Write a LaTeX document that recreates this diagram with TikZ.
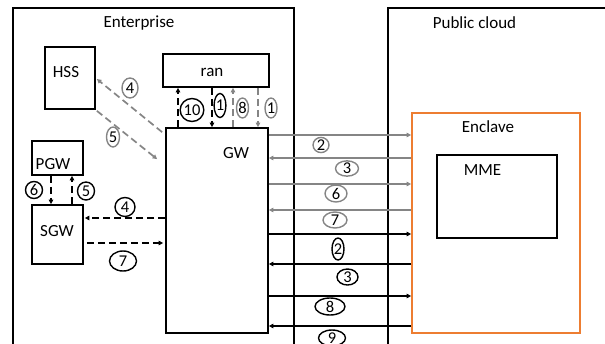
\documentclass[tikz,border=0pt]{standalone}
\usepackage{fontspec}
\setmainfont{Carlito}
\usetikzlibrary{shapes.geometric,arrows.meta,calc}
\definecolor{enclorange}{HTML}{ED7D31}
\definecolor{flowgray}{HTML}{858585}
\begin{document}
\begin{tikzpicture}[x=1pt,y=-1pt,
  box/.style={draw, line width=1.7pt, inner sep=0pt},
  txt/.style={font=\fontsize{17}{20}\selectfont, inner sep=0pt, anchor=base},
  num/.style={ellipse, draw, line width=1.4pt, inner sep=0pt,
              font=\fontsize{16.5}{18}\selectfont},
  gnum/.style={num, draw=flowgray},
  tipped/.style={-{Triangle[length=4.5pt,width=4.5pt]}},
  blk/.style={line width=1.7pt, tipped},
  gry/.style={line width=1.7pt, draw=flowgray, tipped},
  dsh/.style={dash pattern=on 7pt off 4pt},
]
\useasboundingbox (0,0) rectangle (605,343);

% domains
\node[box, anchor=north west, minimum width=281, minimum height=360] (ent) at (12,7) {};
\node[box, anchor=north west, minimum width=260, minimum height=360] (pub) at (387,7) {};
\node[txt] (entlbl) at (139,27) {Enterprise};
\node[txt] (publbl) at (474.5,28) {Public cloud};

% enterprise elements
\node[box, minimum width=50, minimum height=62] (hss) at (70,78) {};
\node[txt] (hsslbl) at (66,77) {HSS};
\node[box, minimum width=106, minimum height=33] (ran) at (216,70.5) {};
\node[txt] (ranlbl) at (212,76) {ran};
\node[box, minimum width=102, minimum height=205] (gw) at (217,230.5) {};
\node[txt] (gwlbl) at (236,158) {GW};
\node[box, minimum width=51, minimum height=34] (pgw) at (57.5,158) {};
\node[txt] (pgwlbl) at (53,169) {PGW};
\node[box, minimum width=51, minimum height=59] (sgw) at (57.5,234.5) {};
\node[txt] (sgwlbl) at (57,236) {SGW};

% cloud elements
\node[draw=enclorange, line width=1.7pt, inner sep=0pt,
      minimum width=168, minimum height=220] (encl) at (496,223) {};
\node[txt] (encllbl) at (488,132) {Enclave};
\node[box, minimum width=120, minimum height=83] (mme) at (497,196.5) {};
\node[txt] (mmelbl) at (482.5,175) {MME};

% ran <-> GW
\draw[blk,dsh] ([xshift=-39pt]gw.north) -- ([xshift=-39pt]gw.north |- ran.south);
\draw[blk,dsh] ([xshift=-4pt]ran.south) -- ([xshift=-4pt]ran.south |- gw.north);
\draw[gry,dsh] ([xshift=16pt]gw.north) -- ([xshift=16pt]gw.north |- ran.south);
\draw[gry,dsh] ([xshift=42pt]ran.south) -- ([xshift=42pt]ran.south |- gw.north);
\node[num, minimum width=17, minimum height=23] (n10) at (192,110) {10};
\node[num, minimum width=10, minimum height=24] (n1a) at (220,105.5) {1};
\node[gnum, minimum width=12, minimum height=20] (g8a) at (242.5,108) {8};
\node[gnum, minimum width=12, minimum height=20] (g1a) at (271,108) {1};

% HSS <-> GW
\draw[gry,dsh] ($(gw.north west)+(-3,5)$) -- ($(hss.east)+(1,1)$);
\draw[gry,dsh] ($(hss.south east)+(1,1)$) -- ($(gw.north west)+(-8,32)$);
\node[gnum, minimum width=16, minimum height=20] (g4) at (130,88) {4};
\node[gnum, minimum width=13, minimum height=20] (g5) at (113,137) {5};

% PGW <-> SGW
\draw[blk,dsh] ([xshift=-6.5pt]pgw.south) -- ([xshift=-6.5pt]pgw.south |- sgw.north);
\draw[blk,dsh] ([xshift=14.5pt]sgw.north) -- ([xshift=14.5pt]sgw.north |- pgw.south);
\node[num, minimum width=17, minimum height=17] (b6) at (34,190) {6};
\node[num, minimum width=17, minimum height=18] (b5) at (86,191) {5};

% SGW <-> GW
\draw[blk,dsh] (gw.west |- 0,218) -- ($(sgw.east |- 0,218)+(1,0)$);
\draw[blk,dsh] ($(sgw.east |- 0,243)+(3,0)$) -- ($(gw.west |- 0,243)+(-2,0)$);
\node[num, minimum width=20, minimum height=19] (b4) at (125,207) {4};
\node[num, minimum width=27, minimum height=20] (b7) at (123,261) {7};

% GW <-> Enclave
\foreach \yy in {135,184}
  \draw[gry] (gw.east |- 0,\yy) -- (encl.west |- 0,\yy);
\foreach \yy in {158,210}
  \draw[gry] (encl.west |- 0,\yy) -- (gw.east |- 0,\yy);
\foreach \yy in {234,296}
  \draw[blk] (gw.east |- 0,\yy) -- (encl.west |- 0,\yy);
\foreach \yy in {264,326}
  \draw[blk] (encl.west |- 0,\yy) -- (gw.east |- 0,\yy);
\node[gnum, minimum width=16, minimum height=14] (g2) at (321,145) {2};
\node[gnum, minimum width=23, minimum height=13] (g3) at (347,168.5) {3};
\node[gnum, minimum width=22, minimum height=17] (g6) at (336,193.5) {6};
\node[gnum, minimum width=24, minimum height=16] (g7) at (335,220) {7};
\node[num, minimum width=12, minimum height=22] (b2) at (338,249) {2};
\node[num, minimum width=21, minimum height=16] (b3) at (347.5,277) {3};
\node[num, minimum width=30, minimum height=17] (b8) at (330,306.5) {8};
\node[num, minimum width=27, minimum height=16] (b9) at (332,338) {9};
\end{tikzpicture}
\end{document}
